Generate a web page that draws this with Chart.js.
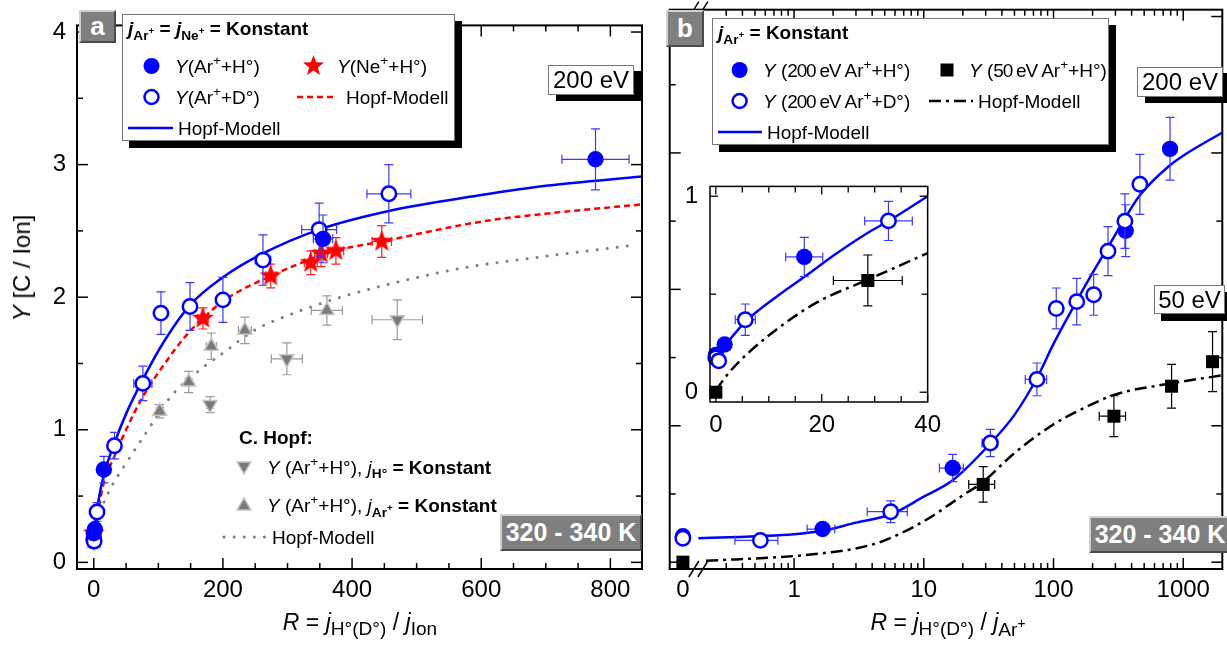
<!DOCTYPE html>
<html>
<head>
<meta charset="utf-8">
<title>Y vs R</title>
<script src="https://cdn.jsdelivr.net/npm/chart.js@4.4.1/dist/chart.umd.min.js"></script>
<style>
  html, body { margin: 0; padding: 0; background: #fff; }
  body { position: relative; width: 1227px; height: 653px; overflow: hidden;
         font-family: Arial, "Liberation Sans", sans-serif; color: #000; }
  canvas { position: absolute; }
  #chartA { left: 0; top: 0; }
  #chartB { left: 660px; top: 0; }
  #inset  { left: 670px; top: 160px; }
  .box { position: absolute; background: #fff; border: 1px solid #777; box-shadow: 7px 7px 0 #000; }
  .ev { font-size: 24px; line-height: 28px; text-align: center; box-shadow: 8px 6px 0 #000; }
  .tag { position: absolute; box-sizing: border-box; background: #7f7f7f; color: #fff; font-weight: bold;
         border: 2px solid; border-color: #d0d0d0 #4a4a4a #4a4a4a #d0d0d0;
         display: flex; align-items: center; justify-content: center; }
  .t { position: absolute; white-space: nowrap; font-size: 19px; line-height: 1; transform: translateY(-50%); }
  .c { transform: translate(-50%, -50%); }
  .b { font-weight: bold; }
  .n { letter-spacing: -1.2px; }
  sub, sup { font-size: 72%; line-height: 0; }
  .ax { font-size: 23px; }
  .ax sub { font-size: 83%; }
  #sym { position: absolute; left: 0; top: 0; }
</style>
</head>
<body>
<canvas id="chartA" width="660" height="653"></canvas>
<canvas id="chartB" width="572" height="653"></canvas>
<canvas id="inset" width="280" height="280"></canvas>

<!-- boxes -->
<div class="box" style="left:122px;top:14px;width:331px;height:125px"></div>
<div class="box" style="left:712px;top:18px;width:395px;height:125px"></div>
<div class="box ev" style="left:548px;top:65px;width:84px;height:28px">200 eV</div>
<div class="box ev" style="left:1137px;top:67px;width:84px;height:28px">200 eV</div>
<div class="box ev" style="left:1154px;top:285px;width:69px;height:27px;box-shadow:7px 7px 0 #000">50 eV</div>

<div class="tag" style="left:79px;top:10px;width:37px;height:33px;font-size:26px">a</div>
<div class="tag" style="left:666px;top:10px;width:38px;height:37px;font-size:26px">b</div>
<div class="tag" style="left:500px;top:514px;width:142px;height:37px;font-size:25px">320 - 340 K</div>
<div class="tag" style="left:1089px;top:516px;width:142px;height:37px;font-size:25px">320 - 340 K</div>

<!-- legend symbols -->
<svg id="sym" width="1227" height="653">
  <circle cx="151.5" cy="66" r="8" fill="#00f"/>
  <polygon fill="#f00" points="313.5,55 316.2,62.3 324,62.6 317.9,67.4 320,74.9 313.5,70.6 307,74.9 309.1,67.4 303,62.6 310.8,62.3"/>
  <circle cx="151.5" cy="97" r="7" fill="#fff" stroke="#00f" stroke-width="2.5"/>
  <line x1="297" y1="97" x2="335" y2="97" stroke="#f00" stroke-width="2.5" stroke-dasharray="6 4"/>
  <line x1="128" y1="128" x2="173" y2="128" stroke="#00f" stroke-width="2.5"/>

  <polygon points="237,462 251,462 244,474" fill="#7a7a7a" stroke="#c4c4c4" stroke-width="1.5"/>
  <polygon points="244,498 251,510 237,510" fill="#7a7a7a" stroke="#c4c4c4" stroke-width="1.5"/>
  <line x1="224" y1="537" x2="266" y2="537" stroke="#808080" stroke-width="3" stroke-linecap="round" stroke-dasharray="0.1 10"/>

  <circle cx="739.6" cy="70" r="8" fill="#00f"/>
  <rect x="940.5" y="63.5" width="13" height="13" fill="#000"/>
  <circle cx="739.6" cy="101" r="7" fill="#fff" stroke="#00f" stroke-width="2.5"/>
  <line x1="929" y1="101" x2="973" y2="101" stroke="#000" stroke-width="2.5" stroke-dasharray="12 5 3 5"/>
  <line x1="718" y1="132" x2="762" y2="132" stroke="#00f" stroke-width="2.5"/>
</svg>

<!-- legend a -->
<div class="t b" style="left:128px;top:28px"><i>j</i><sub>Ar<sup>+</sup></sub> = <i>j</i><sub>Ne<sup>+</sup></sub> = Konstant</div>
<div class="t" style="left:175px;top:66px"><i>Y</i>(Ar<sup>+</sup>+H°)</div>
<div class="t" style="left:337px;top:66px"><i>Y</i>(Ne<sup>+</sup>+H°)</div>
<div class="t" style="left:175px;top:97px"><i>Y</i>(Ar<sup>+</sup>+D°)</div>
<div class="t" style="left:346px;top:97px">Hopf-Modell</div>
<div class="t" style="left:178px;top:128px">Hopf-Modell</div>

<!-- C. Hopf -->
<div class="t b" style="left:239px;top:437px">C. Hopf:</div>
<div class="t" style="left:267px;top:467px"><i>Y</i> (Ar<sup>+</sup>+H°), <i>j</i><sub><b>H°</b></sub> <b>= Konstant</b></div>
<div class="t" style="left:267px;top:505px"><i>Y</i> (Ar<sup>+</sup>+H°), <i>j</i><sub><b>Ar<sup>+</sup></b></sub> <b>= Konstant</b></div>
<div class="t" style="left:272px;top:537px">Hopf-Modell</div>

<!-- legend b -->
<div class="t b" style="left:718px;top:32px"><i>j</i><sub>Ar<sup>+</sup></sub> = Konstant</div>
<div class="t" style="left:763px;top:70px"><i>Y</i> (<span class="n">200 eV</span> Ar<sup>+</sup>+H°)</div>
<div class="t" style="left:969px;top:70px"><i>Y</i> (<span class="n">50 eV</span> Ar<sup>+</sup>+H°)</div>
<div class="t" style="left:763px;top:101px"><i>Y</i> (<span class="n">200 eV</span> Ar<sup>+</sup>+D°)</div>
<div class="t" style="left:978px;top:101px">Hopf-Modell</div>
<div class="t" style="left:767px;top:132px">Hopf-Modell</div>

<!-- axis titles -->
<div class="t" style="left:22px;top:268px;font-size:24px;transform:translate(-50%,-50%) rotate(-90deg)"><i>Y</i> [C / Ion]</div>
<div class="t c ax" style="left:360px;top:622px"><i>R</i> = <i>j</i><sub>H°(D°)</sub> / <i>j</i><sub>Ion</sub></div>
<div class="t c ax" style="left:948px;top:622px"><i>R</i> = <i>j</i><sub>H°(D°)</sub> / <i>j</i><sub>Ar<sup>+</sup></sub></div>

<script>
Chart.defaults.font.family = 'Arial, "Liberation Sans", sans-serif';
Chart.defaults.color = '#000';

// ---------------- panel a (linear R) ----------------
const aArH_R  = [0, 1.66, 15.6, 355, 777];
const aArH_Y  = [0.22, 0.25, 0.70, 2.44, 3.04];
const aArH_eY = [0.04, 0.04, 0.10, 0.18, 0.23];
const aArH_eX = [0, 0, 4, 15, 52];

const aArD_R  = [0, 0.55, 5, 32, 76, 104, 149, 200, 262, 349, 457];
const aArD_Y  = [0.175, 0.16, 0.38, 0.88, 1.35, 1.88, 1.93, 1.98, 2.28, 2.51, 2.78];
const aArD_eY = [0.03, 0.03, 0.07, 0.10, 0.13, 0.16, 0.18, 0.17, 0.19, 0.20, 0.22];
const aArD_eX = [0, 0, 4, 5, 14, 5, 6, 6, 12, 27, 34];

const aNe_R  = [0, 169, 274, 336, 352, 375, 446];
const aNe_Y  = [0.22, 1.84, 2.16, 2.26, 2.33, 2.35, 2.42];
const aNe_eY = [0.03, 0.08, 0.09, 0.09, 0.10, 0.10, 0.12];
const aNe_eX = [0, 8, 8, 10, 10, 12, 15];

// C. Hopf, j_Ar+ konstant (up) and j_H konstant (down)
const aHopfAr_R  = [0, 102, 147, 182, 234, 361];
const aHopfAr_Y  = [0.14, 1.14, 1.36, 1.63, 1.75, 1.90];
const aHopfAr_eY = [0.03, 0.05, 0.08, 0.10, 0.10, 0.11];
const aHopfAr_eX = [0, 5, 5, 8, 10, 24];

const aHopfH_R  = [0, 180, 299, 470];
const aHopfH_Y  = [0.15, 1.19, 1.535, 1.83];
const aHopfH_eY = [0.03, 0.06, 0.12, 0.15];
const aHopfH_eX = [0, 5, 24, 39];

// model curves
const aModAr_R = [0, 1, 7, 15.6, 32, 50, 76, 108, 149, 200, 262, 349, 457, 600, 700, 849];
const aModAr_Y = [0.18, 0.24, 0.46, 0.66, 0.90, 1.12, 1.38, 1.66, 1.94, 2.15, 2.33, 2.51, 2.65, 2.77, 2.84, 2.91];
const aModNe_R = [0, 7, 15.6, 32, 50, 76, 110, 141, 169, 200, 274, 375, 446, 600, 700, 849];
const aModNe_Y = [0.20, 0.40, 0.60, 0.80, 1.00, 1.25, 1.50, 1.70, 1.84, 1.97, 2.16, 2.35, 2.42, 2.57, 2.63, 2.70];
const aModC_R  = [0, 7, 23, 49, 76, 121, 164, 206, 245, 310, 376, 467, 571, 702, 832];
const aModC_Y  = [0.16, 0.33, 0.53, 0.74, 0.94, 1.26, 1.45, 1.60, 1.74, 1.88, 1.99, 2.11, 2.22, 2.31, 2.39];

const aXTicks = [0, 200, 400, 600, 800];
const aYTicks = [0, 1, 2, 3, 4];

// ---------------- panel b (log R) + inset ----------------
const bArH_R  = [0, 1.66, 16.7, 360, 791];
const bArH_Y  = [0.19, 0.243, 0.69, 2.43, 3.03];
const bArH_eY = [0.03, 0.03, 0.10, 0.19, 0.23];
const bArH_eX = [0, 0.4, 3.5, 0, 0];

const bArD_R  = [0, 0.55, 5.56, 32.6, 74.5, 105, 151, 204, 263, 355, 463];
const bArD_Y  = [0.175, 0.16, 0.37, 0.874, 1.34, 1.86, 1.91, 1.96, 2.28, 2.50, 2.77];
const bArD_eY = [0.03, 0.02, 0.08, 0.10, 0.12, 0.15, 0.17, 0.15, 0.18, 0.20, 0.22];
const bArD_eX = [0, 0.2, 1.9, 4.5, 14, 0, 0, 0, 0, 0, 0];

const b50_R  = [0, 28.7, 292, 813, 1682];
const b50_Y  = [0, 0.57, 1.07, 1.29, 1.47];
const b50_eY = [0, 0.13, 0.15, 0.16, 0.22];
const b50_eX = [0, 6.5, 67, 0, 0];

const bModAr_R = [0.183, 1, 1.66, 3, 5.56, 10, 16.7, 32.6, 50, 74.5, 100, 150, 200, 263, 355, 463, 791, 1000, 2000];
const bModAr_Y = [0.175, 0.205, 0.23, 0.29, 0.35, 0.48, 0.60, 0.87, 1.08, 1.35, 1.60, 1.91, 2.12, 2.31, 2.52, 2.69, 2.91, 2.98, 3.15];
const bMod50_R = [0.21, 1, 2, 3, 5, 10, 20, 28.7, 50, 100, 200, 300, 800, 2000];
const bMod50_Y = [0.01, 0.045, 0.075, 0.10, 0.16, 0.30, 0.49, 0.59, 0.80, 1.01, 1.16, 1.23, 1.31, 1.37];

const iModAr_R = [0, 5.6, 12.1, 16.8, 22.9, 28.8, 32.7, 40];
const iModAr_Y = [0.18, 0.36, 0.50, 0.59, 0.71, 0.815, 0.875, 1.0];
const iMod50_R = [0, 2.5, 6.1, 14.5, 19.9, 28.8, 40];
const iMod50_Y = [0.01, 0.10, 0.20, 0.38, 0.47, 0.575, 0.71];

const bXTicks = [0, 1, 10, 100, 1000];
const iXTicks = [0, 20, 40];
const iYTicks = [0, 1];

// where R = 0 and the axis break sit on the log axis
const ZERO_AT = 0.139;
const BREAK_AT = 0.183;
const atZero = r => (r === 0 ? ZERO_AT : r);

// ---------------- helpers ----------------
function pts(rs, ys, map) {
  return rs.map((r, i) => ({ x: map ? map(r) : r, y: ys[i] }));
}
function markers(rs, ys, eY, eX, style, map) {
  return Object.assign({ data: pts(rs, ys, map), errY: eY, errX: eX, showLine: false, clip: false }, style);
}
function curve(rs, ys, style, map) {
  return Object.assign({ data: pts(rs, ys, map), showLine: true, pointRadius: 0, pointHoverRadius: 0,
    borderWidth: 2.5, fill: false, cubicInterpolationMode: 'monotone' }, style);
}
function starImage(R, color) {
  const s = Math.ceil(2 * R + 2), c = document.createElement('canvas');
  c.width = c.height = s;
  const g = c.getContext('2d');
  g.fillStyle = color;
  g.beginPath();
  for (let k = 0; k < 10; k++) {
    const rr = k % 2 ? R * 0.42 : R, ang = -Math.PI / 2 + k * Math.PI / 5;
    g.lineTo(s / 2 + rr * Math.cos(ang), s / 2 + rr * Math.sin(ang));
  }
  g.closePath();
  g.fill();
  return c;
}

const sArH = { pointStyle: 'circle', pointRadius: 8.2, pointBackgroundColor: '#0000ff', pointBorderColor: '#0000ff', pointBorderWidth: 0, errColor: '#3a3aff' };
const sArD = { pointStyle: 'circle', pointRadius: 7.2, pointBackgroundColor: '#ffffff', pointBorderColor: '#0000ff', pointBorderWidth: 2.5, errColor: '#3a3aff' };
const sNe  = { pointStyle: starImage(11.5, '#ff0000'), pointRadius: 11, errColor: '#ff2020' };
const sUp  = { pointStyle: 'triangle', pointRadius: 8, pointBackgroundColor: '#7a7a7a', pointBorderColor: '#c4c4c4', pointBorderWidth: 1.5, errColor: '#9a9a9a' };
const sDown = Object.assign({}, sUp, { pointRotation: 180 });
const s50  = { pointStyle: 'rect', pointRadius: 9.2, pointBackgroundColor: '#000', pointBorderColor: '#000', pointBorderWidth: 0, errColor: '#000' };

const errorBars = {
  id: 'errorBars',
  beforeDatasetDraw(chart, args) {
    const ds = chart.data.datasets[args.index];
    if (!ds.errY) return;
    const { ctx, chartArea: a } = chart;
    const xs = chart.scales.x, ys = chart.scales.y;
    const seg = (x1, y1, x2, y2) => { ctx.beginPath(); ctx.moveTo(x1, y1); ctx.lineTo(x2, y2); ctx.stroke(); };
    ctx.save();
    ctx.beginPath();
    ctx.rect(a.left, a.top, a.right - a.left, a.bottom - a.top);
    ctx.clip();
    ctx.strokeStyle = ds.errColor;
    ctx.lineWidth = 1.2;
    ds.data.forEach((p, i) => {
      const px = xs.getPixelForValue(p.x), py = ys.getPixelForValue(p.y);
      const ey = ds.errY[i] || 0, ex = (ds.errX && ds.errX[i]) || 0;
      if (ey) {
        const y1 = ys.getPixelForValue(p.y + ey), y2 = ys.getPixelForValue(p.y - ey);
        seg(px, y1, px, y2); seg(px - 4.5, y1, px + 4.5, y1); seg(px - 4.5, y2, px + 4.5, y2);
      }
      if (ex) {
        const x1 = xs.getPixelForValue(p.x - ex), x2 = xs.getPixelForValue(p.x + ex);
        seg(x1, py, x2, py); seg(x1, py - 4.5, x1, py + 4.5); seg(x2, py - 4.5, x2, py + 4.5);
      }
    });
    ctx.restore();
  }
};

// frame with inward ticks on all four sides
function makeFrame(o) {
  return {
    id: 'frame',
    beforeDraw(chart) {
      if (!o.white) return;
      const a = chart.chartArea, ctx = chart.ctx;
      ctx.save();
      ctx.fillStyle = '#fff';
      ctx.fillRect(a.left, a.top, a.right - a.left, a.bottom - a.top);
      ctx.restore();
    },
    afterDraw(chart) {
      const { ctx, chartArea: a } = chart;
      const x = chart.scales.x, y = chart.scales.y;
      const seg = (x1, y1, x2, y2) => { ctx.beginPath(); ctx.moveTo(x1, y1); ctx.lineTo(x2, y2); ctx.stroke(); };
      const xt = (vals, len) => vals.forEach(v => {
        const p = x.getPixelForValue(v);
        seg(p, a.bottom, p, a.bottom - len); seg(p, a.top, p, a.top + len);
      });
      const yt = (vals, len) => vals.forEach(v => {
        const p = y.getPixelForValue(v);
        seg(a.left, p, a.left + len, p); seg(a.right, p, a.right - len, p);
      });
      ctx.save();
      ctx.strokeStyle = '#000';
      ctx.lineWidth = o.tickWidth;
      xt(o.xMajor, o.major); xt(o.xMinor, o.minor);
      yt(o.yMajor, o.major); yt(o.yMinor, o.minor);
      ctx.lineWidth = o.frameWidth;
      ctx.strokeRect(a.left, a.top, a.right - a.left, a.bottom - a.top);
      if (o.breakAt) {
        const c = x.getPixelForValue(o.breakAt);
        ctx.lineWidth = 1.5;
        [a.bottom, a.top].forEach(yy => [-4.5, 4.5].forEach(dx => seg(c + dx - 5, yy + 8, c + dx + 5, yy - 8)));
      }
      ctx.restore();
    }
  };
}

function ticksFrom(list, map) {
  return s => { s.ticks = list.map(v => ({ value: map ? map(v) : v })); };
}
const tickFont = { size: 24 };
const noGrid = { display: false, drawTicks: false };

// minor tick positions
const aXMinor = [];
for (let v = 50; v < 850; v += 50) if (v % 200) aXMinor.push(v);
const bXMinor = [0.3, 0.4, 0.5, 0.6, 0.7, 0.8, 0.9];
[1, 10, 100].forEach(d => { for (let k = 2; k <= 9; k++) bXMinor.push(k * d); });
const yMinor = [0.5, 1.5, 2.5, 3.5];

// ---------------- chart a ----------------
new Chart(document.getElementById('chartA'), {
  type: 'scatter',
  data: {
    datasets: [
      markers(aArH_R, aArH_Y, aArH_eY, aArH_eX, sArH),
      markers(aArD_R, aArD_Y, aArD_eY, aArD_eX, sArD),
      markers(aNe_R, aNe_Y, aNe_eY, aNe_eX, sNe),
      markers(aHopfH_R, aHopfH_Y, aHopfH_eY, aHopfH_eX, sDown),
      markers(aHopfAr_R, aHopfAr_Y, aHopfAr_eY, aHopfAr_eX, sUp),
      curve(aModAr_R, aModAr_Y, { borderColor: '#0000ff' }),
      curve(aModNe_R, aModNe_Y, { borderColor: '#ff0000', borderDash: [6, 4] }),
      curve(aModC_R, aModC_Y, { borderColor: '#808080', borderDash: [0.1, 10], borderCapStyle: 'round', borderWidth: 3 })
    ]
  },
  options: {
    responsive: false, animation: false, events: [], devicePixelRatio: 1,
    layout: { padding: { left: 0, top: 8, right: 18, bottom: 0 } },
    plugins: { legend: { display: false }, tooltip: { enabled: false } },
    scales: {
      x: { type: 'linear', min: -26, max: 849, afterBuildTicks: ticksFrom(aXTicks),
           afterFit: s => { s.height = 84; }, grid: noGrid, border: { display: false },
           ticks: { font: tickFont, color: '#000', padding: 7, maxRotation: 0, autoSkip: false } },
      y: { type: 'linear', min: -0.05, max: 4.05, afterBuildTicks: ticksFrom(aYTicks),
           afterFit: s => { s.width = 77; }, grid: noGrid, border: { display: false },
           ticks: { font: tickFont, color: '#000', padding: 11, autoSkip: false } }
    }
  },
  plugins: [errorBars, makeFrame({ xMajor: aXTicks, xMinor: aXMinor, yMajor: aYTicks, yMinor: yMinor,
    major: 11, minor: 6, tickWidth: 1.5, frameWidth: 2 })]
});

// ---------------- chart b ----------------
new Chart(document.getElementById('chartB'), {
  type: 'scatter',
  data: {
    datasets: [
      markers(bArD_R, bArD_Y, bArD_eY, bArD_eX, sArD, atZero),
      markers(bArH_R, bArH_Y, bArH_eY, bArH_eX, sArH, atZero),
      markers(b50_R, b50_Y, b50_eY, b50_eX, s50, atZero),
      curve(bModAr_R, bModAr_Y, { borderColor: '#0000ff' }),
      curve(bMod50_R, bMod50_Y, { borderColor: '#000000', borderDash: [12, 5, 3, 5] })
    ]
  },
  options: {
    responsive: false, animation: false, events: [], devicePixelRatio: 1,
    layout: { padding: { left: 0, top: 8, right: 3, bottom: 0 } },
    plugins: { legend: { display: false }, tooltip: { enabled: false } },
    scales: {
      x: { type: 'logarithmic', min: 0.11, max: 2000, afterBuildTicks: ticksFrom(bXTicks, atZero),
           afterFit: s => { s.height = 84; }, grid: noGrid, border: { display: false },
           ticks: { font: tickFont, color: '#000', padding: 7, maxRotation: 0, autoSkip: false,
                    callback: v => (v === ZERO_AT ? '0' : String(v)) } },
      y: { type: 'linear', min: -0.05, max: 4.05, afterBuildTicks: ticksFrom(aYTicks),
           afterFit: s => { s.width = 5; }, grid: noGrid, border: { display: false },
           ticks: { display: false } }
    }
  },
  plugins: [errorBars, makeFrame({ xMajor: bXTicks.map(atZero), xMinor: bXMinor, yMajor: aYTicks, yMinor: yMinor,
    major: 11, minor: 6, tickWidth: 1.5, frameWidth: 2, breakAt: BREAK_AT })]
});

// ---------------- inset (linear R, 0..40) ----------------
const insetClip = { left: 10, top: 10, right: 2, bottom: 10 };
new Chart(document.getElementById('inset'), {
  type: 'scatter',
  data: {
    datasets: [
      Object.assign(markers(bArD_R, bArD_Y, bArD_eY, bArD_eX, sArD), { clip: insetClip }),
      Object.assign(markers(bArH_R, bArH_Y, bArH_eY, bArH_eX, sArH), { clip: insetClip }),
      Object.assign(markers(b50_R, b50_Y, b50_eY, b50_eX, s50), { clip: insetClip }),
      curve(iModAr_R, iModAr_Y, { borderColor: '#0000ff' }),
      curve(iMod50_R, iMod50_Y, { borderColor: '#000000', borderDash: [12, 5, 3, 5] })
    ]
  },
  options: {
    responsive: false, animation: false, events: [], devicePixelRatio: 1,
    layout: { padding: { left: 0, top: 14, right: 11, bottom: 0 } },
    plugins: { legend: { display: false }, tooltip: { enabled: false } },
    scales: {
      x: { type: 'linear', min: -1.1, max: 40, afterBuildTicks: ticksFrom(iXTicks),
           afterFit: s => { s.height = 38; }, grid: noGrid, border: { display: false },
           ticks: { font: tickFont, color: '#000', padding: 9, maxRotation: 0, autoSkip: false } },
      y: { type: 'linear', min: -0.05, max: 1.05, afterBuildTicks: ticksFrom(iYTicks),
           afterFit: s => { s.width = 40; }, grid: noGrid, border: { display: false },
           ticks: { font: tickFont, color: '#000', padding: 12, autoSkip: false } }
    }
  },
  plugins: [errorBars, makeFrame({ xMajor: iXTicks, xMinor: [5, 10, 15, 25, 30, 35], yMajor: iYTicks, yMinor: [0.5],
    major: 8, minor: 6, tickWidth: 1.3, frameWidth: 1.5, white: true })]
});
</script>
</body>
</html>
